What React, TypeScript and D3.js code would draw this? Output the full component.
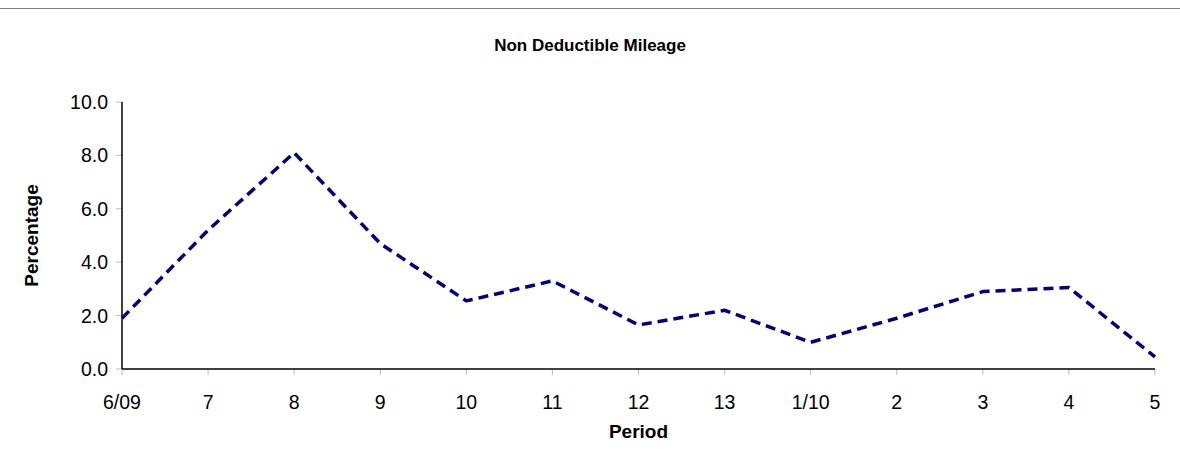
import * as d3 from 'd3';

const periods = ['6/09', '7', '8', '9', '10', '11', '12', '13', '1/10', '2', '3', '4', '5'];
const values = [1.9, 5.2, 8.1, 4.7, 2.55, 3.3, 1.65, 2.2, 1.0, 1.9, 2.9, 3.05, 0.45];
const yTicks = [0, 2, 4, 6, 8, 10];

const W = 1180;
const H = 471;
const left = 122;
const right = 1155;
const top = 102;
const bottom = 369;

export default function App() {
  const x = d3.scalePoint<string>().domain(periods).range([left, right]);
  const y = d3.scaleLinear().domain([0, 10]).range([bottom, top]);
  const line = d3
    .line<number>()
    .x((_, i) => x(periods[i])!)
    .y((d) => y(d));
  const font = 'Liberation Sans, Arial, sans-serif';

  return (
    <svg width={W} height={H} style={{ position: 'absolute', left: 0, top: 0 }} fontFamily={font}>
      <rect width={W} height={H} fill="#fff" />
      <line x1={0} x2={W} y1={8.5} y2={8.5} stroke="#808080" />
      <text x={W / 2} y={51} textAnchor="middle" fontSize={17} fontWeight="bold">
        Non Deductible Mileage
      </text>
      {yTicks.map((t) => (
        <g key={t}>
          <line x1={left - 6} x2={left} y1={y(t)} y2={y(t)} stroke="#bbb" />
          <text x={left - 14} y={y(t) + 7} textAnchor="end" fontSize={19.5}>
            {t.toFixed(1)}
          </text>
        </g>
      ))}
      {periods.map((p) => (
        <g key={p}>
          <line x1={x(p)} x2={x(p)} y1={bottom} y2={bottom + 6} stroke="#bbb" />
          <text x={x(p)} y={bottom + 40} textAnchor="middle" fontSize={19.5}>
            {p}
          </text>
        </g>
      ))}
      <line x1={left} x2={left} y1={top} y2={bottom} stroke="#000" strokeWidth={1.5} />
      <line x1={left} x2={right} y1={bottom} y2={bottom} stroke="#000" strokeWidth={1.5} />
      <path
        d={line(values)!}
        fill="none"
        stroke="#000080"
        strokeWidth={3.5}
        strokeDasharray="10 6"
        strokeLinejoin="round"
      />
      <text x={(left + right) / 2} y={438} textAnchor="middle" fontSize={19} fontWeight="bold">
        Period
      </text>
      <text
        transform={`translate(38, ${(top + bottom) / 2}) rotate(-90)`}
        textAnchor="middle"
        fontSize={19}
        fontWeight="bold"
      >
        Percentage
      </text>
    </svg>
  );
}
